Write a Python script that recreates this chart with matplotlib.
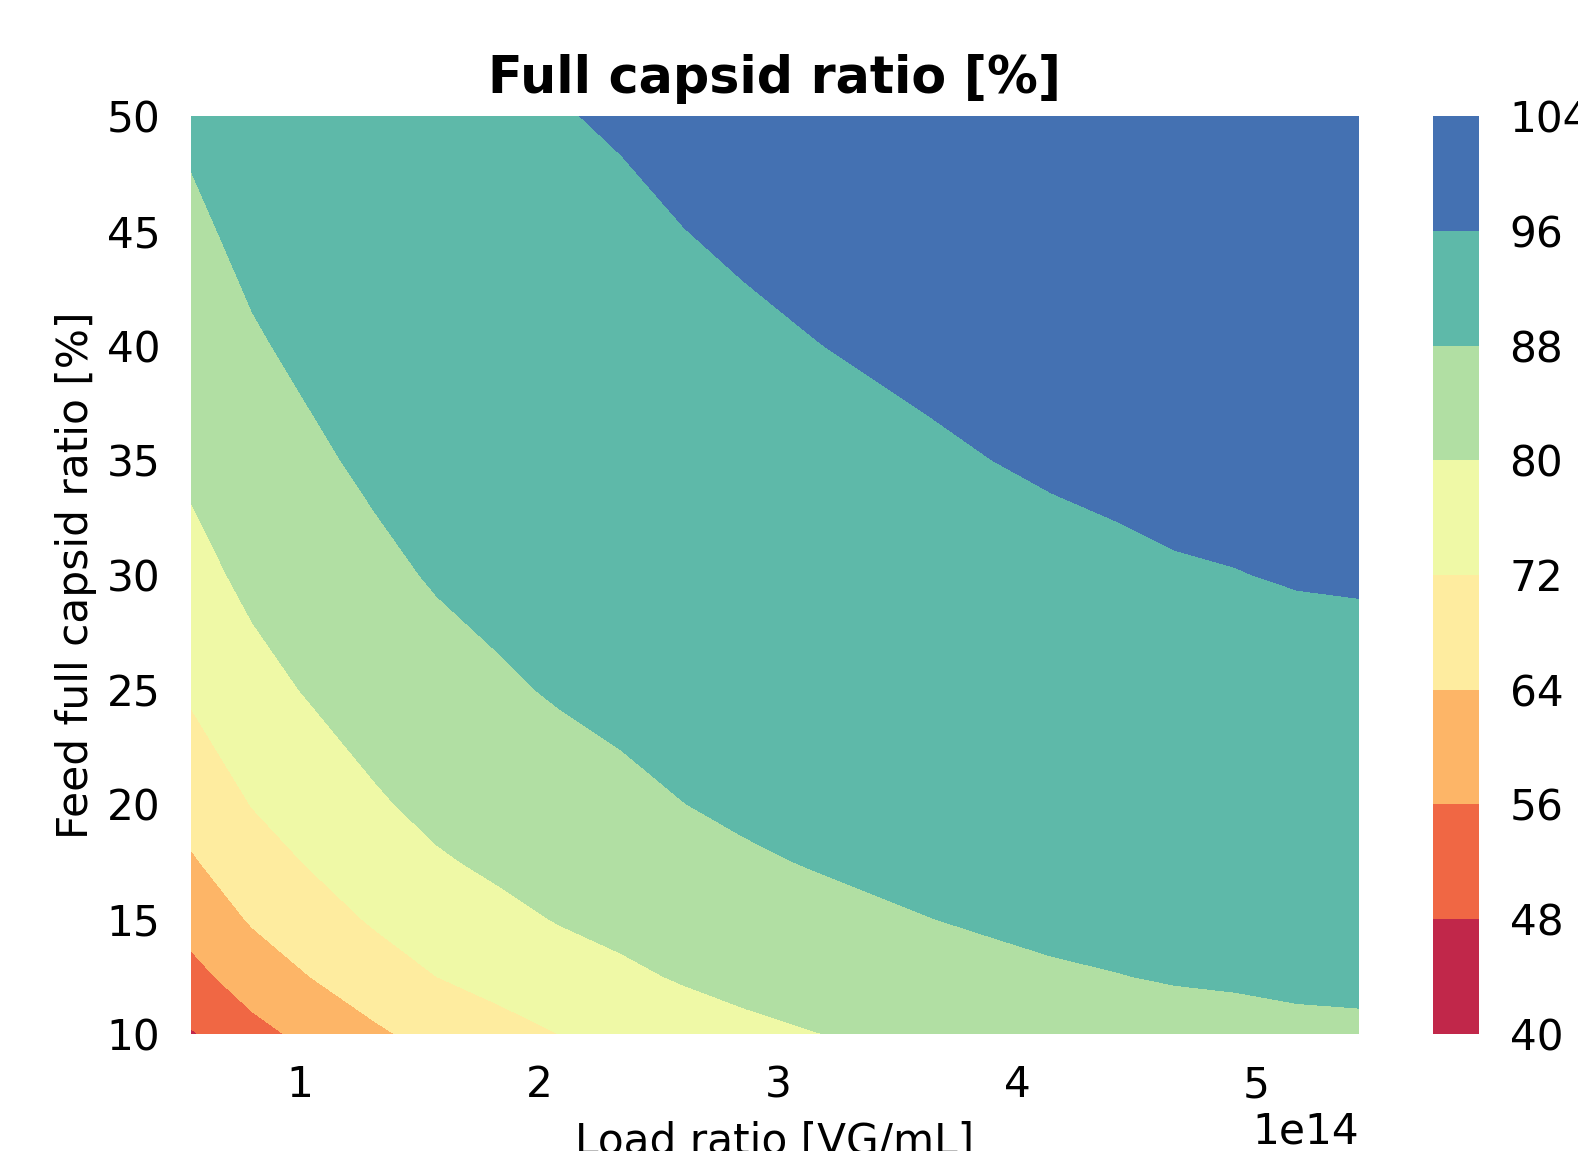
import numpy as np
import matplotlib
matplotlib.use("Agg")
import matplotlib.pyplot as plt

# load ratio grid [VG/mL] (20 columns)
load_ratio = np.array([0.544, 0.801, 1.059, 1.316, 1.573, 1.830, 2.087, 2.345, 2.602, 2.859,
                       3.116, 3.374, 3.631, 3.888, 4.145, 4.402, 4.660, 4.917, 5.174, 5.431]) * 1e14
# feed full capsid ratio grid [%]
feed_ratio = np.array([10, 12.5, 15, 17.5, 20, 25, 30, 35, 40, 45, 50])

# full capsid ratio [%] estimated from the contour bands (rows = feed ratio, cols = load ratio)
full_ratio = np.array([
    [47.37, 53.61, 58.33, 62.81, 66.67, 69.39, 72.05, 74.14, 76.38, 78.21, 79.64, 80.93, 82.07, 83.18, 84.15, 84.85, 85.60, 86.00, 86.59, 86.82],
    [53.64, 59.77, 64.29, 68.47, 72.00, 74.45, 76.82, 78.66, 80.61, 82.19, 83.41, 84.51, 85.48, 86.41, 87.23, 87.80, 88.43, 88.76, 89.25, 89.44],
    [58.84, 64.73, 68.98, 72.84, 76.06, 78.26, 80.37, 81.99, 83.70, 85.07, 86.13, 87.08, 87.91, 88.70, 89.40, 89.89, 90.42, 90.71, 91.11, 91.28],
    [63.21, 68.81, 72.77, 76.33, 79.25, 81.23, 83.11, 84.55, 86.06, 87.26, 88.19, 89.01, 89.73, 90.42, 91.02, 91.45, 91.90, 92.14, 92.49, 92.64],
    [66.94, 72.22, 75.90, 79.17, 81.82, 83.61, 85.29, 86.58, 87.92, 88.98, 89.80, 90.52, 91.15, 91.75, 92.28, 92.65, 93.04, 93.25, 93.56, 93.68],
    [72.97, 77.61, 80.77, 83.52, 85.71, 87.18, 88.55, 89.58, 90.65, 91.50, 92.15, 92.72, 93.21, 93.68, 94.09, 94.38, 94.69, 94.85, 95.09, 95.18],
    [77.64, 81.68, 84.38, 86.69, 88.52, 89.74, 90.86, 91.71, 92.58, 93.26, 93.78, 94.24, 94.64, 95.02, 95.35, 95.58, 95.82, 95.95, 96.14, 96.21],
    [81.35, 84.85, 87.15, 89.11, 90.65, 91.66, 92.59, 93.29, 94.00, 94.56, 94.99, 95.36, 95.69, 95.99, 96.26, 96.45, 96.65, 96.75, 96.90, 96.96],
    [84.38, 87.39, 89.36, 91.02, 92.31, 93.15, 93.93, 94.51, 95.10, 95.56, 95.91, 96.22, 96.49, 96.74, 96.96, 97.11, 97.27, 97.36, 97.48, 97.53],
    [86.89, 89.48, 91.16, 92.56, 93.64, 94.35, 95.00, 95.48, 95.97, 96.35, 96.64, 96.90, 97.12, 97.33, 97.51, 97.63, 97.77, 97.84, 97.94, 97.98],
    [89.01, 91.23, 92.65, 93.83, 94.74, 95.33, 95.87, 96.27, 96.68, 97.00, 97.24, 97.45, 97.63, 97.80, 97.95, 98.05, 98.17, 98.22, 98.31, 98.34],
])

levels = [40, 48, 56, 64, 72, 80, 88, 96, 104]
xticks = [1e14, 2e14, 3e14, 4e14, 5e14]
yticks = [10, 15, 20, 25, 30, 35, 40, 45, 50]

TICK_FS = 30.4
LABEL_FS = 30.4
TITLE_FS = 36.5

fig = plt.figure(figsize=(15.78, 11.51), dpi=100)
ax = fig.add_axes([0.1210, 0.1017, 0.7402, 0.7975])
cax = fig.add_axes([0.9081, 0.1017, 0.02915, 0.7975])

cs = ax.contourf(load_ratio, feed_ratio, full_ratio, levels=levels, cmap="Spectral")
cb = fig.colorbar(cs, cax=cax, ticks=levels)
cb.outline.set_visible(False)

for s in ax.spines.values():
    s.set_visible(False)
ax.set_xticks(xticks)
ax.set_yticks(yticks)
ax.tick_params(length=0, pad=22, labelsize=TICK_FS)
cax.tick_params(length=0, pad=22, labelsize=TICK_FS)
ax.xaxis.get_offset_text().set_fontsize(TICK_FS)

ax.set_xlabel("Load ratio [VG/mL]", fontsize=LABEL_FS, labelpad=10.5)
ax.set_ylabel("Feed full capsid ratio [%]", fontsize=LABEL_FS, labelpad=7)
ax.set_title("Full capsid ratio [%]", fontsize=TITLE_FS, fontweight="bold", pad=16.5)

fig.savefig("out.png", dpi=100)
